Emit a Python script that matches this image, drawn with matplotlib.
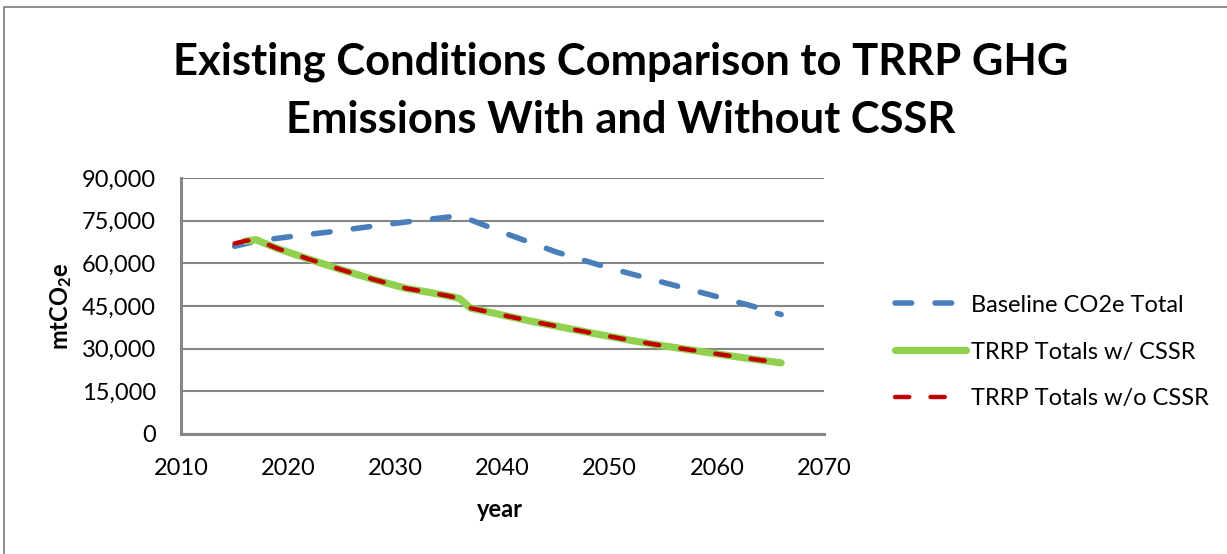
import numpy as np
import matplotlib
matplotlib.use('Agg')
from matplotlib import pyplot as plt
from matplotlib.patches import Rectangle
from matplotlib.ticker import FuncFormatter

plt.rcParams['font.family'] = ['Lato', 'DejaVu Sans']
plt.rcParams['mathtext.fontset'] = 'custom'
plt.rcParams['mathtext.rm'] = 'Lato:bold'
plt.rcParams['mathtext.it'] = 'Lato:bold'
plt.rcParams['mathtext.bf'] = 'Lato:bold'

# emissions in mtCO2e
base_years = [2015, 2017, 2020, 2024, 2028, 2032, 2035, 2036, 2040, 2045, 2050, 2055, 2060, 2063, 2066]
baseline = [66000, 67800, 69300, 71100, 73100, 75000, 76300, 76800, 70900, 64000, 58300, 53300, 48300, 45300, 42000]

cssr_years = [2016, 2017, 2019, 2022, 2025, 2028, 2031, 2033, 2035, 2036, 2037, 2040,
              2043, 2046, 2049, 2052, 2055, 2058, 2061, 2064, 2066]
with_cssr = [67800, 68300, 65200, 61400, 57700, 54300, 51200, 49900, 48500, 47600, 44300, 41800,
             39400, 37200, 35000, 32900, 31000, 29300, 27600, 26000, 25000]

nocssr_years = [2015, 2016, 2017, 2019, 2022, 2025, 2028, 2031, 2033, 2035, 2036, 2037, 2040,
                2043, 2046, 2049, 2052, 2055, 2058, 2061, 2064, 2066]
without_cssr = [67000, 67900, 68300, 65200, 61400, 57700, 54300, 51200, 49900, 48500, 47600, 44300, 41800,
                39400, 37200, 35000, 32900, 31000, 29300, 27600, 26000, 25000]

labels = ['Baseline CO2e Total', 'TRRP Totals w/ CSSR', 'TRRP Totals w/o CSSR']
x_ticks = [2010, 2020, 2030, 2040, 2050, 2060, 2070]
y_ticks = [0, 15000, 30000, 45000, 60000, 75000, 90000]

W, H = 1227, 554
fig = plt.figure(figsize=(W / 100, H / 100), dpi=100)
ax = fig.add_axes([181 / W, 1 - 434 / H, 643 / W, 256 / H])

grey = '#868686'
ax.plot(base_years, baseline, color='#4a7ebb', lw=4.0, linestyle=(0, (3.0, 4.2)),
        dash_capstyle='round', solid_capstyle='round', label=labels[0], zorder=3)
ax.plot(cssr_years, with_cssr, color='#92d050', lw=5.2, solid_capstyle='round',
        label=labels[1], zorder=4)
ax.plot(nocssr_years, without_cssr, color='#c00000', lw=3.2, linestyle=(0, (3.2, 4.8)),
        dash_capstyle='round', label=labels[2], zorder=5)

ax.set_xlim(2010, 2070)
ax.set_ylim(0, 90000)
ax.set_xticks(x_ticks)
ax.set_yticks(y_ticks)
ax.yaxis.set_major_formatter(FuncFormatter(lambda v, p: '{:,.0f}'.format(v)))
ax.tick_params(length=0, labelsize=17, pad=18)
ax.tick_params(axis='x', pad=17)
ax.grid(axis='y', color=grey, lw=1.5)
ax.set_axisbelow(True)
for s in ['top', 'right']:
    ax.spines[s].set_visible(False)
for s in ['left', 'bottom']:
    ax.spines[s].set_color(grey)
    ax.spines[s].set_linewidth(2.2)

ax.set_ylabel('mtCO$_2$e', fontsize=17, fontweight='bold')
ax.yaxis.set_label_coords(-0.166, 0.5)
ax.set_xlabel('year', fontsize=17, fontweight='bold')
ax.xaxis.set_label_coords(0.496, -0.25)

fig.text(621 / W, 1 - 91 / H, 'Existing Conditions Comparison to TRRP GHG\nEmissions With and Without CSSR',
         ha='center', va='center', fontsize=31.3, fontweight='bold', linespacing=1.55)

fig.legend(loc='center left', bbox_to_anchor=(874 / W, 1 - 352 / H), frameon=False,
           fontsize=17, handlelength=3.0, handletextpad=0.2, labelspacing=1.1)

# outer chart border
fig.add_artist(Rectangle((3.5 / W, -0.1), 1.5, 1.1 - 7.3 / H, transform=fig.transFigure,
                         fill=False, edgecolor=grey, lw=1.3, clip_on=False))

fig.savefig('out.png', dpi=100)
